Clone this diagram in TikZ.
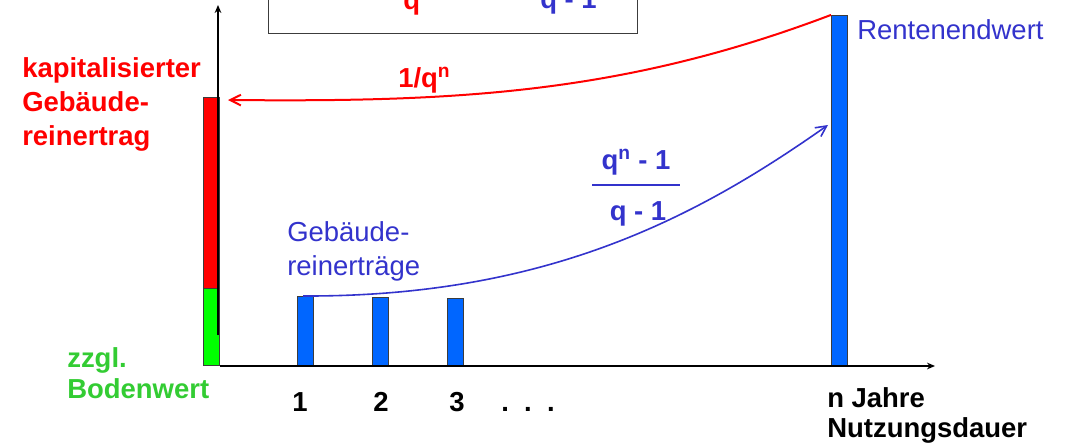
\documentclass[tikz,border=0pt]{standalone}
\usepackage{fontspec}
\setmainfont{Liberation Sans}
\usetikzlibrary{arrows.meta}
\definecolor{rtext}{RGB}{255,0,0}
\definecolor{gtext}{RGB}{51,204,51}
\definecolor{btext}{RGB}{51,51,204}
\definecolor{bbar}{RGB}{0,102,255}
\definecolor{gbar}{RGB}{0,255,0}
\definecolor{edge}{RGB}{60,60,60}
\begin{document}
\begin{tikzpicture}[x=0.75pt,y=-0.75pt,
  lbl/.style={inner sep=0pt,anchor=base west,font=\fontsize{20.6pt}{24.7pt}\selectfont},
  blbl/.style={lbl,font=\fontsize{20.6pt}{24.7pt}\selectfont\bfseries},
  tick/.style={blbl,anchor=base},
  bar/.style={draw=edge,line width=0.8pt,inner sep=0pt,minimum width=12pt,anchor=south west,fill=bbar},
  axis/.style={line width=1.6pt,-{Stealth[length=6pt,width=5pt]}},
  arr/.style={-{Straight Barb[length=8pt,width=8pt]}},
]
\useasboundingbox (0,0) rectangle (1066,445);

% formula box (cut at top)
\node[draw=edge,line width=1.1pt,inner sep=0pt,minimum width=276.75pt,minimum height=48pt,anchor=south west] (box) at (268,34) {};
\node[blbl,text=rtext] (fq) at (403,10) {q\textsuperscript{n}};
\node[blbl,text=btext] (fd) at (540,9) {q - 1};

% bars
\node[bar,fill=gbar,minimum height=57.75pt] (green) at (203,366) {};
\node[bar,fill=rtext,minimum height=143.25pt] (red) at (203,289) {};
\node[bar,minimum height=51.75pt] (b1) at (297,366) {};
\node[bar,minimum height=51pt] (b2) at (372,366) {};
\node[bar,minimum height=50.25pt] (b3) at (447,366) {};
\node[bar,minimum height=262.5pt] (bn) at (831,366) {};

% axes
\coordinate (yb) at (218,335);
\coordinate (yt) at (218,5);
\coordinate (xr) at (935,366);
\draw[axis] (yb) -- (yt);
\draw[axis] (green.south east) -- (xr);

% curves
\coordinate (rt) at (228,100);
\coordinate (bt) at (828,125);
\coordinate (bs) at (303,296);
\draw[arr,rtext,line width=1.5pt] (bn.north west) .. controls (620,95) and (450,102) .. (rt);
\draw[arr,btext,line width=1.2pt] (bs) .. controls (550,297) and (700,215) .. (bt);

% labels
\node[blbl,text=rtext] (k1) at (22,78) {kapitalisierter};
\node[blbl,text=rtext] (k2) at (22,112) {Gebäude-};
\node[blbl,text=rtext] (k3) at (22,146) {reinertrag};
\node[blbl,text=gtext] (z1) at (67,367) {zzgl.};
\node[blbl,text=gtext] (z2) at (67,398) {Bodenwert};
\node[lbl,text=btext] (rw) at (857,40) {Rentenendwert};
\node[lbl,text=btext] (g1) at (287,242) {Gebäude-};
\node[lbl,text=btext] (g2) at (287,275) {reinerträge};
\node[blbl,text=rtext] (disc) at (398,88) {1/q\textsuperscript{n}};

% fraction
\node[tick,text=btext] (num) at (636,170) {q\textsuperscript{n} - 1};
\node[tick,text=btext] (den) at (638,220) {q - 1};
\coordinate (f1) at (592,185);
\coordinate (f2) at (680,185);
\draw[btext,line width=1.5pt] (f1) -- (f2);

% ticks
\node[tick] (t1) at (300,411) {1};
\node[tick] (t2) at (381,411) {2};
\node[tick] (t3) at (457,411) {3};
\node[tick] (td) at (528,411) {.\ \ .\ \ .};
\node[blbl] (nj) at (827,407) {n Jahre};
\node[blbl] (nd) at (827,437) {Nutzungsdauer};
\end{tikzpicture}
\end{document}
